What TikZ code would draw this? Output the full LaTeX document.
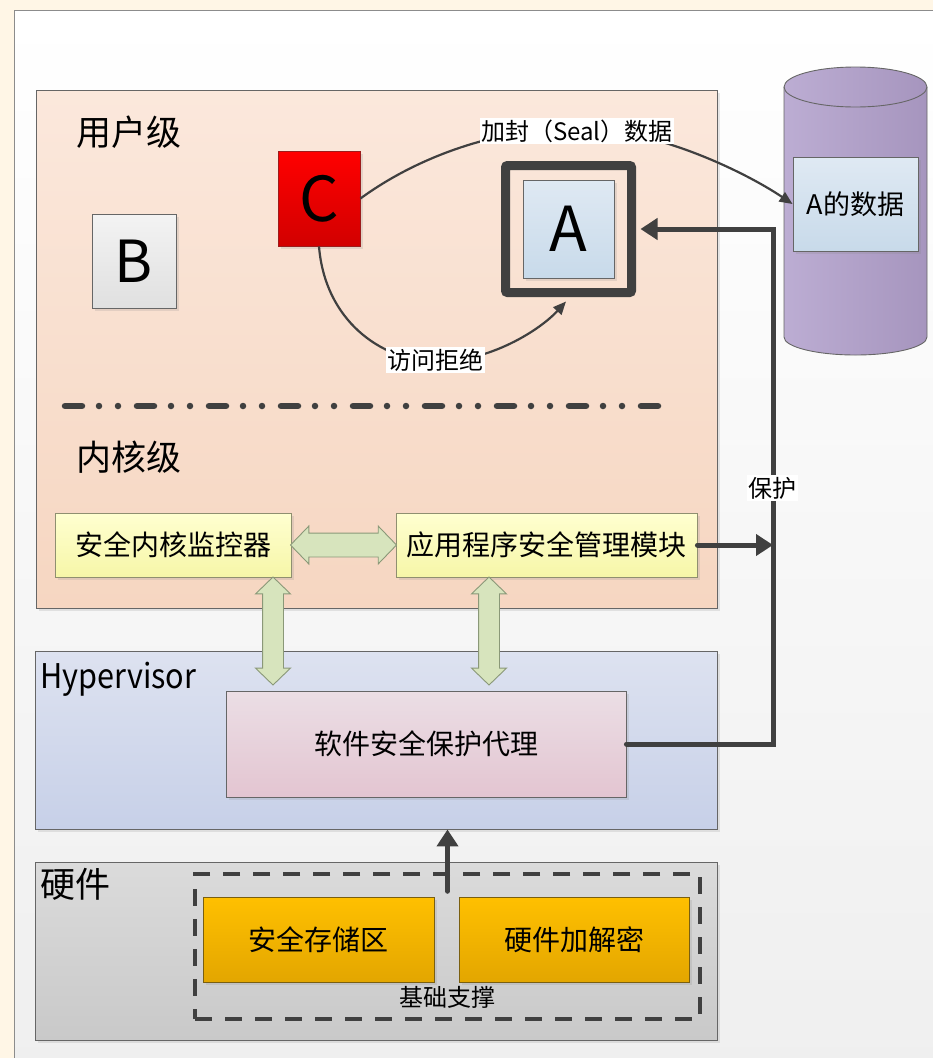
\documentclass[tikz,border=0pt]{standalone}
\usepackage{fontspec}
\setmainfont{Noto Sans CJK SC}
\usetikzlibrary{arrows.meta,shapes.arrows,shadows,calc}

\definecolor{cream}{HTML}{FFF6E6}
\definecolor{framegray}{HTML}{8C8C8C}
\definecolor{frameB}{HTML}{EFEFEF}
\definecolor{peachT}{HTML}{FBE8DC}
\definecolor{peachB}{HTML}{F6D6C1}
\definecolor{hypT}{HTML}{DDE2F0}
\definecolor{hypB}{HTML}{C7D0E8}
\definecolor{hwT}{HTML}{DBDBDB}
\definecolor{hwB}{HTML}{C9C9C9}
\definecolor{panelline}{HTML}{666666}
\definecolor{bT}{HTML}{F3F3F3}
\definecolor{bB}{HTML}{E0E0E0}
\definecolor{cT}{HTML}{FF0000}
\definecolor{cB}{HTML}{D20000}
\definecolor{cline}{HTML}{9C1C1C}
\definecolor{blT}{HTML}{DFE9F3}
\definecolor{blB}{HTML}{C8DAEA}
\definecolor{ylT}{HTML}{FFFFD0}
\definecolor{ylB}{HTML}{F6F6A8}
\definecolor{ylline}{HTML}{8F8F70}
\definecolor{pkT}{HTML}{EBDEE5}
\definecolor{pkB}{HTML}{E3C5D1}
\definecolor{orT}{HTML}{FFC000}
\definecolor{orB}{HTML}{E3A600}
\definecolor{orline}{HTML}{7A5F10}
\definecolor{arrfill}{HTML}{D7E4BD}
\definecolor{arrline}{HTML}{8A9878}
\definecolor{cylL}{HTML}{BCADD3}
\definecolor{cylR}{HTML}{A695BE}
\definecolor{ink}{HTML}{404040}

\begin{document}
\begin{tikzpicture}[x=1pt,y=-1pt,
  fz/.style={font={\fontsize{#1}{#1}\selectfont}},
  sz/.style 2 args={minimum width=#1pt, minimum height=#2pt},
  shadowed/.style={drop shadow={shadow xshift=2.5pt,shadow yshift=-2.5pt,opacity=0.18}},
  panel/.style={draw=panelline, line width=0.9pt, inner sep=0pt, shadowed},
  box/.style={draw=panelline, line width=0.9pt, inner sep=0pt, shadowed},
  hollow/.style={double arrow, draw=arrline, fill=arrfill, line width=0.9pt,
    inner xsep=0pt, inner ysep=#1, double arrow head extend=7pt, double arrow tip angle=92},
  thinconn/.style={draw=ink, line width=2.2pt, -{Triangle[length=13pt,width=11pt]}},
  thickconn/.style={draw=ink, line width=5pt, line cap=round, -{Triangle[length=17pt,width=21pt]}},
  lbl/.style={fill=white, inner sep=1.5pt, fz=24pt}
]
\useasboundingbox (0,0) rectangle (933,1058);

% page background and outer frame
\fill[cream] (0,0) rectangle (933,1058);
\path[draw=framegray, line width=1pt, top color=white, bottom color=frameB]
  (14,10) rectangle (960,1080);

% layer panels
\node[panel, sz={681}{518}, top color=peachT, bottom color=peachB] (userk) at (376.5,349) {};
\node[panel, sz={682}{178}, top color=hypT, bottom color=hypB] (hyp) at (376,740) {};
\node[panel, sz={682}{178}, top color=hwT, bottom color=hwB] (hw) at (376,951) {};

% layer titles
\node[fz=35pt] (tuser) at (129,132) {用户级};
\node[fz=35pt] (tkern) at (129,457) {内核级};
\node[fz=34pt, anchor=west, inner sep=0pt, xscale=0.9] (thyp) at (40,679) {Hypervisor};
\node[fz=35pt, anchor=west, inner sep=0pt] (thw) at (40,884) {硬件};

% user / kernel separator
\draw[ink, line width=6.5pt, line cap=round,
  dash pattern=on 17pt off 17pt on 0pt off 19pt on 0pt off 19pt] (65,406) -- (660,406);

% user-level applications
\node[box, sz={84}{94}, top color=bT, bottom color=bB, fz=58pt] (B) at (134,261) {B};
\node[box, draw=cline, sz={82}{95}, top color=cT, bottom color=cB, fz=62pt] (C) at (319,198.5) {C};
\node[draw=ink, line width=9pt, rounded corners=2pt, sz={126}{127}] (Aframe) at (568.5,229) {};
\node[box, sz={91}{98}, top color=blT, bottom color=blB, fz=62pt] (A) at (568.5,229) {A};

% storage cylinder
\path[draw=panelline, line width=0.9pt, left color=cylL, right color=cylR]
  (784,87) -- (784,337) .. controls (784,346.9) and (816,355) .. (855.5,355)
  .. controls (895,355) and (927,346.9) .. (927,337) -- (927,87)
  .. controls (927,76) and (895,67) .. (855.5,67)
  .. controls (816,67) and (784,76) .. (784,87) -- cycle;
\draw[panelline, line width=0.9pt] (784,87) .. controls (784,98) and (816,107) .. (855.5,107)
  .. controls (895,107) and (927,98) .. (927,87);
\node[box, sz={125}{94}, top color=blT, bottom color=blB, fz=27pt] (data) at (855.5,204) {A的数据};

% kernel modules
\node[box, draw=ylline, sz={236}{64}, top color=ylT, bottom color=ylB, fz=28pt] (kmon) at (173,545) {安全内核监控器};
\node[box, draw=ylline, sz={301}{64}, top color=ylT, bottom color=ylB, fz=28pt] (appmgr) at (546.5,545) {应用程序安全管理模块};

% hypervisor agent
\node[box, sz={400}{106}, top color=pkT, bottom color=pkB, fz=28pt] (agent) at (426,744) {软件安全保护代理};

% hardware support
\node[draw=ink, line width=3.5pt, dash pattern=on 17pt off 13pt, sz={505}{145}, inner sep=0pt] (hwgrp) at (447.5,946.5) {};
\node[box, draw=orline, sz={231}{85}, top color=orT, bottom color=orB, fz=28pt] (store) at (318.5,939.5) {安全存储区};
\node[box, draw=orline, sz={230}{85}, top color=orT, bottom color=orB, fz=28pt] (crypto) at (574,939.5) {硬件加解密};
\node[fz=24pt] (base) at (447,997) {基础支撑};

% two-way links between modules
\node[hollow=11.5pt, minimum height=106pt] (hk) at ($(kmon.east)!0.5!(appmgr.west)$) {};
\node[hollow=10pt, rotate=90, minimum height=108pt] (vl) at (273,631) {};
\node[hollow=10pt, rotate=90, minimum height=108pt] (vr) at (489,631) {};

% sealing and denied access
\coordinate (sealtop) at (577,128);
\draw[thinconn] (C.east) .. controls (420,155) and (500,128) .. (sealtop)
  .. controls (655,128) and (745,172) .. (data.west);
\coordinate (denylow) at (435,362);
\draw[thinconn] (C.south) .. controls (325,320) and (380,360) .. (denylow)
  .. controls (490,362) and (540,330) .. ([xshift=-2.5pt,yshift=-4.5pt]Aframe.south);
\node[lbl] (seallbl) at (577,131) {加封（Seal）数据};
\node[lbl] (denylbl) at (435,360) {访问拒绝};

% protection path
\coordinate (px) at (773,229);
\draw[thickconn] (agent.east) -- (agent.east -| px) -- (px) -- ([xshift=4.5pt]Aframe.east);
\draw[thickconn] (appmgr.east) -- (appmgr.east -| px);
\node[lbl] (plbl) at (772,488) {保护};

% hardware feeds the hypervisor
\draw[thickconn] ([yshift=-19pt]hwgrp.north) -- (hwgrp.north |- hyp.south);
\end{tikzpicture}
\end{document}
